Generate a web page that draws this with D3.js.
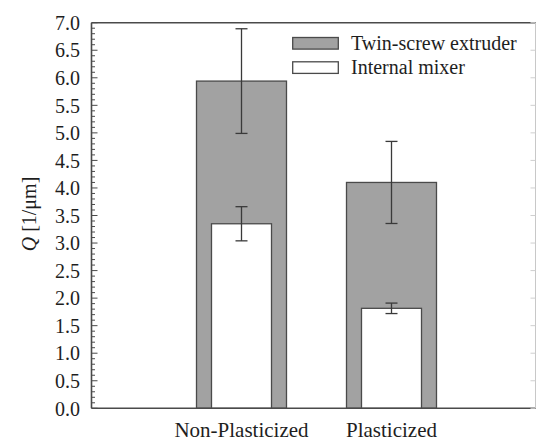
<!DOCTYPE html>
<html>
<head>
<meta charset="utf-8">
<script src="https://cdn.jsdelivr.net/npm/d3@7"></script>
<style>
  html, body { margin: 0; padding: 0; background: #fff; }
  svg { display: block; }
</style>
</head>
<body>
<svg id="chart" width="536" height="442"></svg>
<script>
// Q values per category (mean and half-width of error bar)
const categories = ["Non-Plasticized", "Plasticized"];
const categoryPos = [1, 2];
const twinScrew = [5.94, 4.10];
const twinScrewErr = [0.95, 0.745];
const internalMixer = [3.35, 1.815];
const internalMixerErr = [0.31, 0.095];
const seriesNames = ["Twin-screw extruder", "Internal mixer"];
const yTicks = [0.0, 0.5, 1.0, 1.5, 2.0, 2.5, 3.0, 3.5, 4.0, 4.5, 5.0, 5.5, 6.0, 6.5, 7.0];

(function () {
const svg = d3.select("#chart")
  .attr("font-family", "'Liberation Serif', 'Times New Roman', 'DejaVu Serif', serif");
const textColor = "#1e1e1e";
const plotLeft = 91.5, plotRight = 535.5, plotTop = 22.7, plotBottom = 408.3;

const x = d3.scaleLinear().domain([0, 2.96]).range([plotLeft, plotRight]);
const y = d3.scaleLinear().domain([0, 7]).range([plotBottom, plotTop]);

const axisColor = "#4a4a4a";
const barFill = "#a2a2a2";

// Bars: wide twin-screw bars behind narrower internal mixer bars
const twinW = 0.6, mixW = 0.4;
svg.append("g").selectAll("rect")
  .data(categoryPos.map((p, i) => ({ p, v: twinScrew[i] })))
  .join("rect")
  .attr("x", d => x(d.p - twinW / 2))
  .attr("width", d => x(d.p + twinW / 2) - x(d.p - twinW / 2))
  .attr("y", d => y(d.v))
  .attr("height", d => y(0) - y(d.v))
  .attr("fill", barFill)
  .attr("stroke", axisColor)
  .attr("stroke-width", 1.3);

svg.append("g").selectAll("rect")
  .data(categoryPos.map((p, i) => ({ p, v: internalMixer[i] })))
  .join("rect")
  .attr("x", d => x(d.p - mixW / 2))
  .attr("width", d => x(d.p + mixW / 2) - x(d.p - mixW / 2))
  .attr("y", d => y(d.v))
  .attr("height", d => y(0) - y(d.v))
  .attr("fill", "#fff")
  .attr("stroke", axisColor)
  .attr("stroke-width", 1.3);

// Error bars with caps
function errorBars(vals, errs) {
  const g = svg.append("g").attr("stroke", "#3a3a3a").attr("stroke-width", 1.3).attr("fill", "none");
  categoryPos.forEach((p, i) => {
    const cx = x(p), hi = y(vals[i] + errs[i]), lo = y(vals[i] - errs[i]);
    g.append("line").attr("x1", cx).attr("x2", cx).attr("y1", hi).attr("y2", lo);
    g.append("line").attr("x1", cx - 6).attr("x2", cx + 6).attr("y1", hi).attr("y2", hi);
    g.append("line").attr("x1", cx - 6).attr("x2", cx + 6).attr("y1", lo).attr("y2", lo);
  });
}
errorBars(twinScrew, twinScrewErr);
errorBars(internalMixer, internalMixerErr);

// Frame: left, top and bottom dark, right edge faint
const frame = svg.append("g").attr("fill", "none");
frame.append("line").attr("x1", plotLeft).attr("x2", plotLeft).attr("y1", plotTop).attr("y2", plotBottom)
  .attr("stroke", axisColor).attr("stroke-width", 1.6);
frame.append("line").attr("x1", plotLeft).attr("x2", 536).attr("y1", plotTop).attr("y2", plotTop)
  .attr("stroke", axisColor).attr("stroke-width", 1.6);
frame.append("line").attr("x1", plotLeft).attr("x2", 536).attr("y1", plotBottom).attr("y2", plotBottom)
  .attr("stroke", axisColor).attr("stroke-width", 1.6);
frame.append("line").attr("x1", plotRight).attr("x2", plotRight).attr("y1", plotTop).attr("y2", plotBottom)
  .attr("stroke", "#c8c8c8").attr("stroke-width", 1);

// Inward ticks: major every 0.5, minor every 0.1
const minorTicks = d3.range(0, 70.5, 1).map(v => v / 10);
const tickG = svg.append("g").attr("stroke", axisColor).attr("stroke-width", 1);
minorTicks.forEach(v => {
  const major = Math.abs(v * 2 - Math.round(v * 2)) < 1e-6;
  const len = major ? 6 : 3.5;
  tickG.append("line").attr("x1", plotLeft).attr("x2", plotLeft + len).attr("y1", y(v)).attr("y2", y(v));
});
const rTickG = svg.append("g").attr("stroke", "#cfcfcf").attr("stroke-width", 1);
yTicks.forEach(v => {
  rTickG.append("line").attr("x1", plotRight - 5).attr("x2", plotRight).attr("y1", y(v)).attr("y2", y(v));
});

// Tick labels
svg.append("g").selectAll("text")
  .data(yTicks)
  .join("text")
  .attr("x", 80)
  .attr("y", d => y(d))
  .attr("dy", "0.36em")
  .attr("text-anchor", "end")
  .attr("font-size", 20)
  .attr("fill", textColor)
  .text(d => d3.format(".1f")(d));

// Category labels
svg.append("g").selectAll("text")
  .data(categories)
  .join("text")
  .attr("x", (d, i) => x(categoryPos[i]))
  .attr("y", 436.5)
  .attr("text-anchor", "middle")
  .attr("font-size", 21)
  .attr("fill", textColor)
  .text(d => d);

// Y axis title
const yTitle = svg.append("text")
  .attr("transform", "translate(36,214) rotate(-90)")
  .attr("text-anchor", "middle")
  .attr("font-size", 20)
  .attr("fill", textColor);
yTitle.append("tspan").attr("font-style", "italic").text("Q");
yTitle.append("tspan").text(" [1/\u03bcm]");

// Legend
const legend = svg.append("g");
const fills = [barFill, "#fff"];
seriesNames.forEach((name, i) => {
  const yy = 37.5 + i * 24.3;
  legend.append("rect").attr("x", 292.7).attr("y", yy).attr("width", 45.6).attr("height", 11.6)
    .attr("fill", fills[i]).attr("stroke", axisColor).attr("stroke-width", 1.3);
  legend.append("text").attr("x", 351).attr("y", yy + 12.5).attr("font-size", 20)
    .attr("fill", textColor).text(name);
});
})();
</script>
</body>
</html>
